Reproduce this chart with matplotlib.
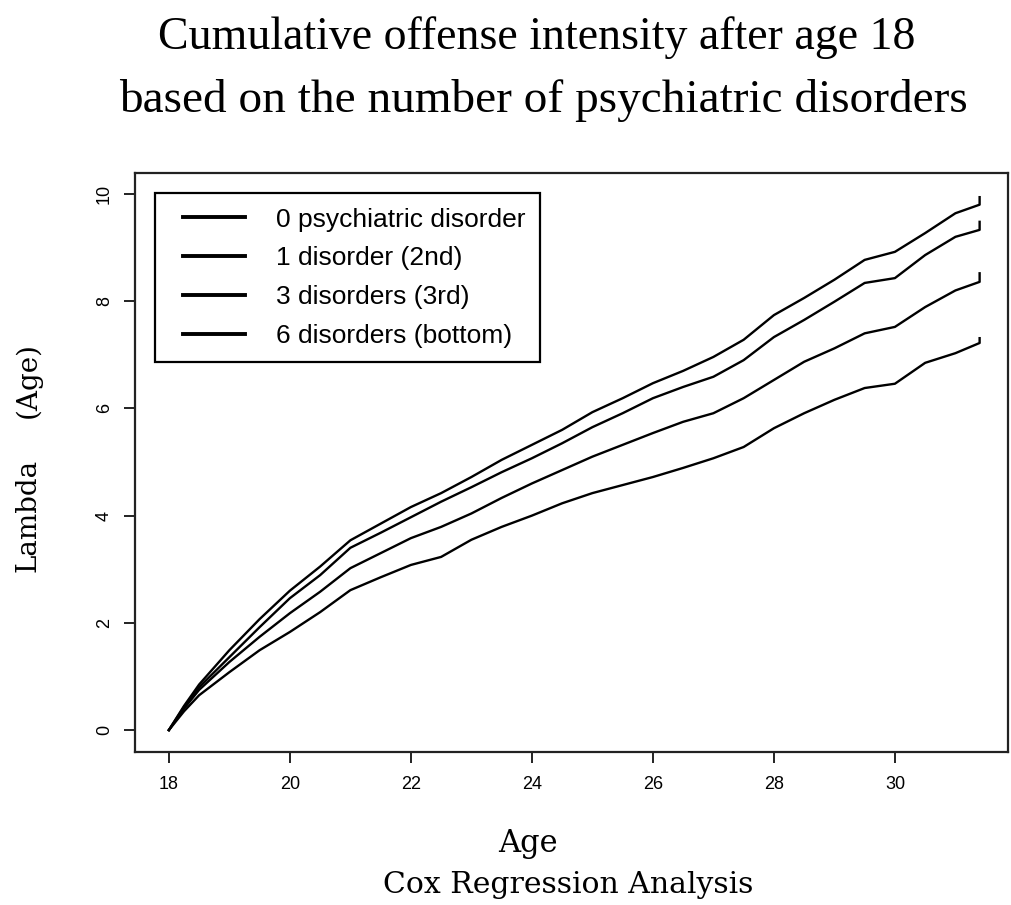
import matplotlib
matplotlib.use("Agg")
import matplotlib.pyplot as plt
from matplotlib.legend_handler import HandlerLine2D

# Idade (anos) e intensidade acumulada
ages = [18, 18.25, 18.5, 19, 19.5, 20, 20.5, 21, 21.5, 22,
        22.5, 23, 23.5, 24, 24.5, 25, 25.5, 26, 26.5, 27,
        27.5, 28, 28.5, 29, 29.5, 30, 30.5, 31, 31.4, 31.4]

lam_0 = [0, 0.45, 0.85, 1.49, 2.07, 2.60, 3.05, 3.54, 3.85, 4.16,
         4.42, 4.72, 5.04, 5.32, 5.60, 5.93, 6.19, 6.47, 6.70, 6.96,
         7.28, 7.74, 8.06, 8.40, 8.77, 8.92, 9.27, 9.64, 9.80, 9.94]
lam_1 = [0, 0.43, 0.80, 1.36, 1.92, 2.46, 2.89, 3.40, 3.68, 3.97,
         4.26, 4.53, 4.81, 5.07, 5.35, 5.65, 5.91, 6.19, 6.40, 6.59,
         6.90, 7.33, 7.65, 7.99, 8.34, 8.43, 8.86, 9.20, 9.33, 9.48]
lam_3 = [0, 0.40, 0.75, 1.27, 1.74, 2.18, 2.58, 3.02, 3.30, 3.58,
         3.79, 4.04, 4.33, 4.60, 4.85, 5.10, 5.32, 5.54, 5.75, 5.91,
         6.19, 6.53, 6.87, 7.12, 7.40, 7.52, 7.89, 8.20, 8.36, 8.52]
lam_6 = [0, 0.35, 0.65, 1.08, 1.49, 1.83, 2.20, 2.61, 2.85, 3.08,
         3.23, 3.55, 3.79, 4.00, 4.23, 4.42, 4.57, 4.72, 4.89, 5.07,
         5.28, 5.63, 5.91, 6.16, 6.38, 6.46, 6.85, 7.03, 7.22, 7.31]

labels = ["0 psychiatric disorder", "1 disorder (2nd)",
          "3 disorders (3rd)", "6 disorders (bottom)"]
x_ticks = [18, 20, 22, 24, 26, 28, 30]
y_ticks = [0, 2, 4, 6, 8, 10]

SERIF = "Liberation Serif"
SLAB = "DejaVu Serif"
SANS = "Liberation Sans"

fig = plt.figure(figsize=(10.12, 9.05), dpi=100)
ax = fig.add_axes([0.1334, 0.169, 0.8627, 0.6398])

linhas = []
for serie, lab in zip([lam_0, lam_1, lam_3, lam_6], labels):
    ln, = ax.plot(ages, serie, color="black", linewidth=1.7, label=lab)
    linhas.append(ln)

ax.set_xlim(17.44, 31.87)
ax.set_ylim(-0.41, 10.39)
ax.set_xticks(x_ticks)
ax.set_yticks(y_ticks)
ax.tick_params(direction="out", length=8, width=1.4, color="#222222",
               labelsize=13, labelfontfamily=SANS)
ax.tick_params(axis="x", pad=9)
ax.tick_params(axis="y", pad=8, labelrotation=90)
for lbl in ax.get_yticklabels():
    lbl.set_va("center")
for s in ax.spines.values():
    s.set_linewidth(1.6)
    s.set_color("#222222")

# Legenda: borda reta, linhas grossas, texto sem serifa
leg = ax.legend(handles=linhas, loc="upper left",
                bbox_to_anchor=(0.0229, 0.9655),
                fancybox=False, framealpha=1, edgecolor="black",
                prop={"family": SANS, "size": 19},
                handlelength=2.86, handletextpad=1.17, labelspacing=0.56,
                borderpad=0.55, borderaxespad=0,
                handler_map={ln: HandlerLine2D(xpad=0.51) for ln in linhas})
leg.get_frame().set_linewidth(1.6)
for ln in leg.get_lines():
    ln.set_linewidth(2.8)

fig.text(0.53, 0.958, "Cumulative offense intensity after age 18",
         ha="center", va="center", fontfamily=SERIF, fontsize=33)
fig.text(0.537, 0.889, "based on the number of psychiatric disorders",
         ha="center", va="center", fontfamily=SERIF, fontsize=34)
fig.text(0.522, 0.068, "Age", ha="center", va="center",
         fontfamily=SLAB, fontsize=22)
fig.text(0.561, 0.022, "Cox Regression Analysis", ha="center", va="center",
         fontfamily=SLAB, fontsize=21.5)
fig.text(0.028, 0.431, "Lambda", ha="center", va="center",
         rotation=90, fontfamily=SLAB, fontsize=20)
fig.text(0.028, 0.58, "(Age)", ha="center", va="center",
         rotation=90, fontfamily=SLAB, fontsize=20)

fig.savefig("out.png", dpi=100)
